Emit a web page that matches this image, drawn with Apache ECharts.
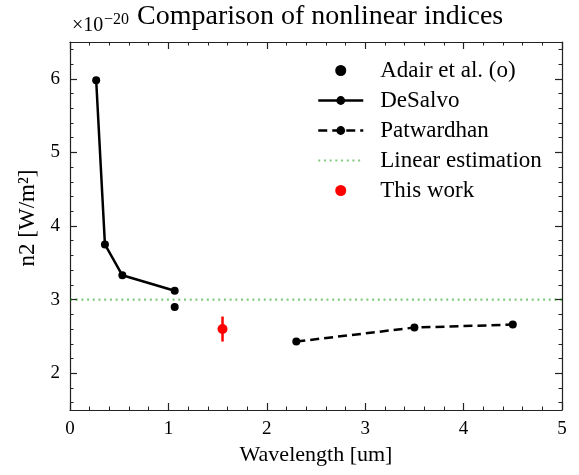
<!DOCTYPE html>
<html>
<head>
<meta charset="utf-8">
<script src="https://cdn.jsdelivr.net/npm/echarts@6/dist/echarts.min.js"></script>
<style>
html,body{margin:0;padding:0;background:#fff;}
#chart{width:579px;height:475px;}
</style>
</head>
<body>
<div id="chart"></div>
<script>
// Values in units of 1e-20 m^2/W
const adairX = [1.064];
const adairY = [2.90];
const desalvoX = [0.266, 0.355, 0.532, 1.064];
const desalvoY = [5.98, 3.75, 3.33, 3.12];
const patwardhanX = [2.30, 3.50, 4.50];
const patwardhanY = [2.43, 2.62, 2.66];
const linearX = [0, 5];
const linearY = [3.0, 3.0];
const thisWorkX = [1.55];
const thisWorkY = [2.60];
const thisWorkErr = [0.17];
const legendNames = ['Adair et al. (o)', 'DeSalvo', 'Patwardhan', 'Linear estimation', 'This work'];

// Tick labels
const xTicks = [0, 1, 2, 3, 4, 5];
const yTicks = [2, 3, 4, 5, 6];
const yMinorTicks = [1.6, 1.8, 2.2, 2.4, 2.6, 2.8, 3.2, 3.4, 3.6, 3.8, 4.2, 4.4, 4.6, 4.8,
                     5.2, 5.4, 5.6, 5.8, 6.2, 6.4];

const zip = (xs, ys) => xs.map((x, i) => [x, ys[i]]);
const FONT = 'Liberation Serif';
const AX = '#222';

const chart = echarts.init(document.getElementById('chart'), null, {renderer: 'canvas'});

function xAxisDef(pos, showLabel) {
  return {
    type: 'value', position: pos, min: xTicks[0], max: xTicks[xTicks.length - 1], interval: 1,
    splitLine: {show: false},
    axisLine: {show: true, onZero: false, lineStyle: {color: AX, width: 1.2}},
    axisTick: {show: true, inside: true, length: 7, lineStyle: {color: AX, width: 1.2}},
    minorTick: {show: true, splitNumber: 5, length: 3.5, lineStyle: {color: AX, width: 1}},
    axisLabel: {show: showLabel, color: '#000', fontFamily: FONT, fontSize: 19, margin: 10,
      showMinLabel: true, showMaxLabel: true}
  };
}
function yAxisDef(pos, major, showLabel) {
  return {
    type: 'value', position: pos, min: 1.5, max: 6.5, offset: 0,
    splitLine: {show: false},
    axisLine: {show: major, onZero: false, lineStyle: {color: AX, width: 1.2}},
    axisTick: {show: true, inside: true, length: major ? 7 : 3.5,
      customValues: major ? yTicks : yMinorTicks,
      lineStyle: {color: AX, width: major ? 1.2 : 1}},
    minorTick: {show: false},
    axisLabel: {show: showLabel, customValues: yTicks, color: '#000', fontFamily: FONT, fontSize: 19, margin: 10}
  };
}

const xBottom = Object.assign(xAxisDef('bottom', true), {
  name: 'Wavelength [um]', nameLocation: 'middle', nameGap: 33,
  nameTextStyle: {color: '#000', fontFamily: FONT, fontSize: 22}
});
const xTop = xAxisDef('top', false);
const yLeft = Object.assign(yAxisDef('left', true, true), {
  name: 'n2 [W/m²]', nameLocation: 'middle', nameGap: 26,
  nameTextStyle: {color: '#000', fontFamily: FONT, fontSize: 23, padding: [0, 0, 0, 16]}
});
const yLeftMinor = yAxisDef('left', false, false);
const yRight = yAxisDef('right', true, false);
const yRightMinor = yAxisDef('right', false, false);

const option = {
  animation: false,
  backgroundColor: '#fff',
  title: {
    text: 'Comparison of nonlinear indices',
    left: 137, top: 3, padding: 0,
    textStyle: {color: '#000', fontFamily: FONT, fontSize: 28, fontWeight: 'normal'}
  },
  graphic: [
    {type: 'text', left: 72, top: 16, style: {text: '×10', fill: '#000', font: '20px "Liberation Serif"'}},
    {type: 'text', left: 104, top: 12, style: {text: '−20', fill: '#000', font: '16px "Liberation Serif"'}}
  ],
  grid: {left: 70, right: 17, top: 42, bottom: 65, containLabel: false},
  xAxis: [xBottom, xTop],
  yAxis: [yLeft, yLeftMinor, yRight, yRightMinor],
  legend: {
    orient: 'vertical',
    left: 317, top: 59, padding: 0,
    itemWidth: 45, itemHeight: 11, itemGap: 7,
    lineStyle: {width: 2.5},
    textStyle: {color: '#000', fontFamily: FONT, fontSize: 23, padding: [0, 0, 0, 12]},
    data: [
      {name: legendNames[0]},
      {name: legendNames[1]},
      {name: legendNames[2]},
      {name: legendNames[3], itemStyle: {color: 'rgba(0,0,0,0)', borderWidth: 0}, lineStyle: {width: 2.2}},
      {name: legendNames[4]}
    ]
  },
  series: [
    {
      name: legendNames[3], type: 'line', xAxisIndex: 0, yAxisIndex: 0,
      data: zip(linearX, linearY), symbol: 'none', z: 1,
      lineStyle: {color: 'rgba(0,150,0,0.5)', width: 2.2, type: [2, 3.7]},
      itemStyle: {color: 'rgba(0,150,0,0.5)'}
    },
    {
      name: legendNames[0], type: 'scatter', xAxisIndex: 0, yAxisIndex: 0,
      data: zip(adairX, adairY), symbol: 'circle', symbolSize: 8,
      itemStyle: {color: '#000', opacity: 1}
    },
    {
      name: legendNames[1], type: 'line', xAxisIndex: 0, yAxisIndex: 0,
      data: zip(desalvoX, desalvoY), symbol: 'circle', symbolSize: 8, showAllSymbol: true,
      lineStyle: {color: '#000', width: 2.5, type: 'solid'},
      itemStyle: {color: '#000'}
    },
    {
      name: legendNames[2], type: 'line', xAxisIndex: 0, yAxisIndex: 0,
      data: zip(patwardhanX, patwardhanY), symbol: 'circle', symbolSize: 8, showAllSymbol: true,
      lineStyle: {color: '#000', width: 2.5, type: [9, 5]},
      itemStyle: {color: '#000'}
    },
    {
      name: 'errbar', type: 'custom', xAxisIndex: 0, yAxisIndex: 0,
      data: thisWorkX.map((x, i) => [x, thisWorkY[i] - thisWorkErr[i], thisWorkY[i] + thisWorkErr[i]]),
      encode: {x: 0, y: [1, 2]},
      renderItem: function (params, api) {
        const p1 = api.coord([api.value(0), api.value(1)]);
        const p2 = api.coord([api.value(0), api.value(2)]);
        return {type: 'line', shape: {x1: p1[0], y1: p1[1], x2: p2[0], y2: p2[1]},
          style: {stroke: '#ff0000', lineWidth: 2.5}};
      },
      z: 3
    },
    {
      name: legendNames[4], type: 'scatter', xAxisIndex: 0, yAxisIndex: 0,
      data: zip(thisWorkX, thisWorkY), symbol: 'circle', symbolSize: 10,
      itemStyle: {color: '#ff0000', opacity: 1}, z: 4
    }
  ]
};
chart.setOption(option);
</script>
</body>
</html>
